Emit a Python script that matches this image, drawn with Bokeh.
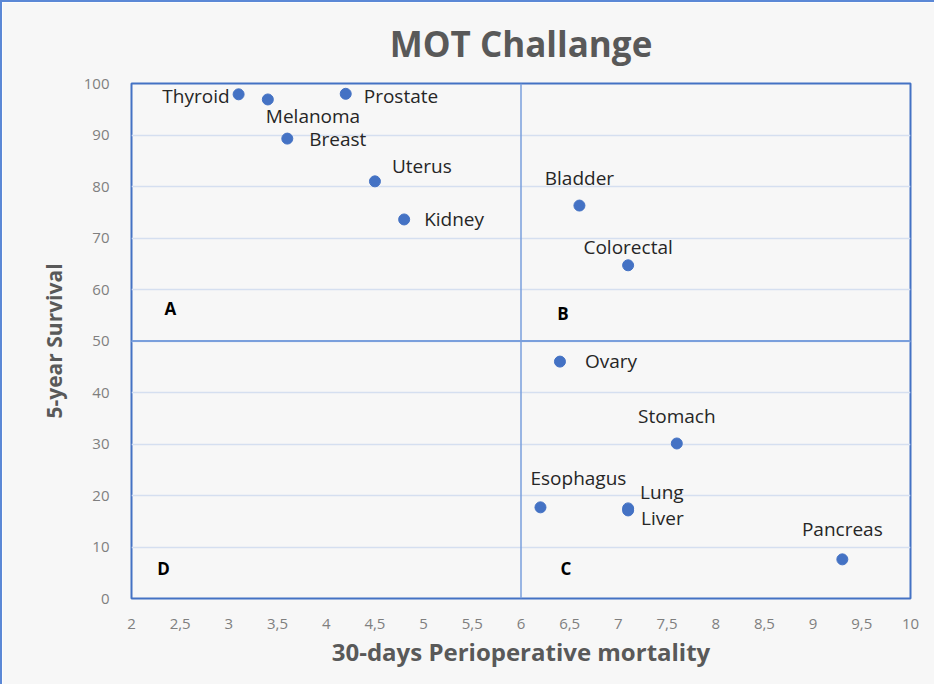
from bokeh.plotting import figure
from bokeh.models import ColumnDataSource, Span, FixedTicker, CustomJSTickFormatter
from bokeh.core.properties import value
from bokeh.embed import file_html
from bokeh.resources import INLINE

# ---- data ----
cancers = ["Thyroid", "Melanoma", "Prostate", "Breast", "Uterus", "Kidney", "Bladder",
           "Colorectal", "Ovary", "Stomach", "Esophagus", "Lung", "Liver", "Pancreas"]
mortality = [3.1, 3.4, 4.2, 3.6, 4.5, 4.8, 6.6, 7.1, 6.4, 7.6, 6.2, 7.1, 7.1, 9.3]
survival = [97.9, 96.9, 98.0, 89.3, 81.0, 73.6, 76.3, 64.7, 46.0, 30.1, 17.7, 17.5, 17.1, 7.6]

quadrants = ["A", "B", "C", "D"]
quad_x = [2.4, 6.43, 6.46, 2.33]
quad_y = [56.3, 55.3, 5.8, 5.8]

x_ticks = [2, 2.5, 3, 3.5, 4, 4.5, 5, 5.5, 6, 6.5, 7, 7.5, 8, 8.5, 9, 9.5, 10]
y_ticks = [0, 10, 20, 30, 40, 50, 60, 70, 80, 90, 100]

title_text = "MOT Challange"
x_title = "30-days Perioperative mortality"
y_title = "5-year Survival"

# ---- label placement (styling) ----
label_align = ["right", "left", "left", "left", "left", "left", "center",
               "center", "left", "center", "left", "left", "left", "center"]
label_dx = [-9, -2, 18, 22, 17, 20, 0, 0, 25, 0, -10, 12, 13, 0]
label_dy = [2, 17, 2, 0, -15, 0, -28, -18, -1, -27, -29, -16, 8, -30]

BLUE = "#4472C4"
BG = "#f7f7f7"
FONT = "Open Sans"

p = figure(
    frame_width=779, frame_height=515,
    x_range=(2, 10), y_range=(0, 100),
    output_backend="svg", toolbar_location=None,
    min_border_left=129, min_border_right=24, min_border_top=81, min_border_bottom=86,
    background_fill_color=BG, border_fill_color=BG,
    title=title_text,
)
p.styles = {"border-top": "2px solid #5b88d6", "border-left": "2px solid #5b88d6"}

p.title.align = "center"
p.title.vertical_align = "top"
p.title.text_font = FONT
p.title.text_font_size = "35px"
p.title.text_font_style = "bold"
p.title.text_color = "#595959"
p.title.standoff = 30

p.outline_line_color = BLUE
p.outline_line_width = 2
p.outline_line_alpha = 1

# axes
for ax in (p.xaxis[0], p.yaxis[0]):
    ax.axis_line_color = None
    ax.major_tick_line_color = None
    ax.minor_tick_line_color = None
    ax.major_label_text_font = FONT
    ax.major_label_text_font_size = "15px"
    ax.major_label_text_color = "#7f7f7f"
    ax.axis_label_text_font = FONT
    ax.axis_label_text_font_style = "bold"
    ax.axis_label_text_color = "#595959"

p.xaxis.ticker = FixedTicker(ticks=x_ticks)
p.yaxis.ticker = FixedTicker(ticks=y_ticks)
p.xaxis.formatter = CustomJSTickFormatter(code="return tick.toString().replace('.', ',');")
p.xaxis.axis_label = x_title
p.yaxis.axis_label = y_title
p.xaxis.axis_label_text_font_size = "24px"
p.yaxis.axis_label_text_font_size = "21px"
p.xaxis.major_label_standoff = 14
p.yaxis.major_label_standoff = 16
p.xaxis.axis_label_standoff = 3
p.yaxis.axis_label_standoff = 13

p.xgrid.grid_line_color = None
p.ygrid.grid_line_color = "#d5dff0"
p.ygrid.grid_line_width = 1.5

# quadrant dividers
p.add_layout(Span(location=6, dimension="height", line_color="#7a9fdc", line_width=1.5))
p.add_layout(Span(location=50, dimension="width", line_color="#7a9fdc", line_width=2))

src = ColumnDataSource(dict(x=mortality, y=survival, name=cancers,
                            align=label_align, dx=label_dx, dy=label_dy))
p.scatter("x", "y", source=src, size=11, color=BLUE, line_color=BLUE)
p.text("x", "y", text="name", source=src, text_align="align", text_baseline="middle",
       x_offset="dx", y_offset="dy", text_font=value(FONT), text_font_size="19px",
       text_color="#262626")

qsrc = ColumnDataSource(dict(x=quad_x, y=quad_y, t=quadrants))
p.text("x", "y", text="t", source=qsrc, text_align="center", text_baseline="middle",
       text_font=value(FONT), text_font_size="17px", text_font_style="bold",
       text_color="#000000")

open("out.html", "w").write(file_html(p, INLINE))
